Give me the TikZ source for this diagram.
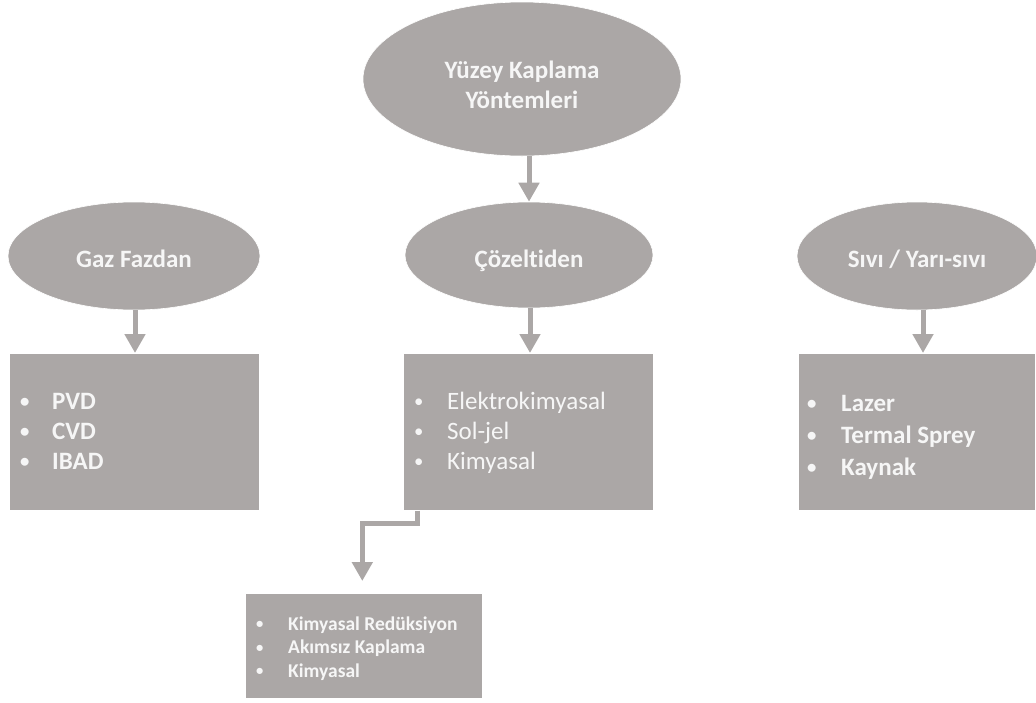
\documentclass[tikz,border=0pt]{standalone}
\usepackage{fontspec}
\setmainfont{Carlito}[Ligatures=NoCommon]
\usetikzlibrary{shapes.geometric,arrows.meta,calc}
\definecolor{boxgray}{RGB}{171,167,166}
\definecolor{txt}{RGB}{246,246,246}
\newcommand{\bul}{\raisebox{0.08em}{\scalebox{0.75}{•}}}
\begin{document}
\begin{tikzpicture}[x=1pt,y=-1pt,
 oval/.style={ellipse,fill=boxgray,draw=white,line width=0.6pt,inner sep=0pt,text=txt,font=\bfseries\fontsize{25}{30}\selectfont,text height=23pt,text depth=1pt},
 panel/.style={rectangle,fill=boxgray,draw=white,line width=0.6pt,inner sep=0pt,anchor=north west},
 conn/.style={draw=boxgray,line width=5pt,-{Triangle[width=20pt,length=19pt]}},
 list/.style={anchor=west,inner sep=0pt,text=txt,align=left}]
\useasboundingbox (0,0) rectangle (1036,702);
% ellipses
\node[oval,minimum width=318pt,minimum height=154pt,
 label={[yshift=-6pt,text=txt,font=\bfseries\fontsize{25}{30.5}\selectfont,align=center]center:Yüzey Kaplama\\Yöntemleri}] (top) at (522,79) {};
\node[oval,minimum width=252pt,minimum height=108pt] (gaz) at (134,256) {Gaz Fazdan};
\node[oval,minimum width=248pt,minimum height=106pt,text height=24pt,text depth=0pt] (coz) at (529,255) {Çözeltiden};
\node[oval,minimum width=240pt,minimum height=108pt,text height=22pt,text depth=0pt] (sivi) at (917,256) {Sıvı / Yarı-sıvı};
% panels
\node[panel,minimum width=250pt,minimum height=157pt] (gazbox) at (9,353) {};
\node[panel,minimum width=250pt,minimum height=157pt] (cozbox) at (403,353) {};
\node[panel,minimum width=237pt,minimum height=157pt] (sivibox) at (798,353) {};
\node[panel,minimum width=237pt,minimum height=105pt] (redbox) at (245,593) {};
% lists
\node[list,font=\bfseries\fontsize{25}{30}\selectfont] (gazlist) at (20,433)
 {\begin{tabular}{@{}p{32pt}@{}l@{}}\bul&PVD\\\bul&CVD\\\bul&IBAD\end{tabular}};
\node[list,font=\fontsize{25}{30}\selectfont] (cozlist) at (414,433)
 {\begin{tabular}{@{}p{33pt}@{}l@{}}\bul&Elektrokimyasal\\\bul&Sol-jel\\\bul&Kimyasal\end{tabular}};
\node[list,font=\bfseries\fontsize{25}{32}\selectfont] (sivilist) at (807,437)
 {\begin{tabular}{@{}p{34pt}@{}l@{}}\bul&Lazer\\\bul&Termal Sprey\\\bul&Kaynak\end{tabular}};
\node[list,font=\bfseries\fontsize{19.5}{23.5}\selectfont] (redlist) at (256,649)
 {\begin{tabular}{@{}p{32pt}@{}l@{}}\bul&Kimyasal Redüksiyon\\\bul&Akımsız Kaplama\\\bul&Kimyasal\end{tabular}};
% connectors
\draw[conn] (coz.north |- top.south) -- (coz.north);
\draw[conn] ([xshift=1pt]gaz.south) -- ([xshift=1pt]gaz.south |- gazbox.north);
\draw[conn] ([xshift=1pt]coz.south) -- ([xshift=1pt]coz.south |- cozbox.north);
\draw[conn] ([xshift=6pt]sivi.south) -- ([xshift=6pt]sivi.south |- sivibox.north);
\coordinate (bend) at ([xshift=14pt,yshift=-13pt]cozbox.south west);
\draw[conn,shorten >=12pt] ([xshift=14pt]cozbox.south west) -- (bend) -| ([xshift=-1.5pt]redbox.north);
\end{tikzpicture}
\end{document}
